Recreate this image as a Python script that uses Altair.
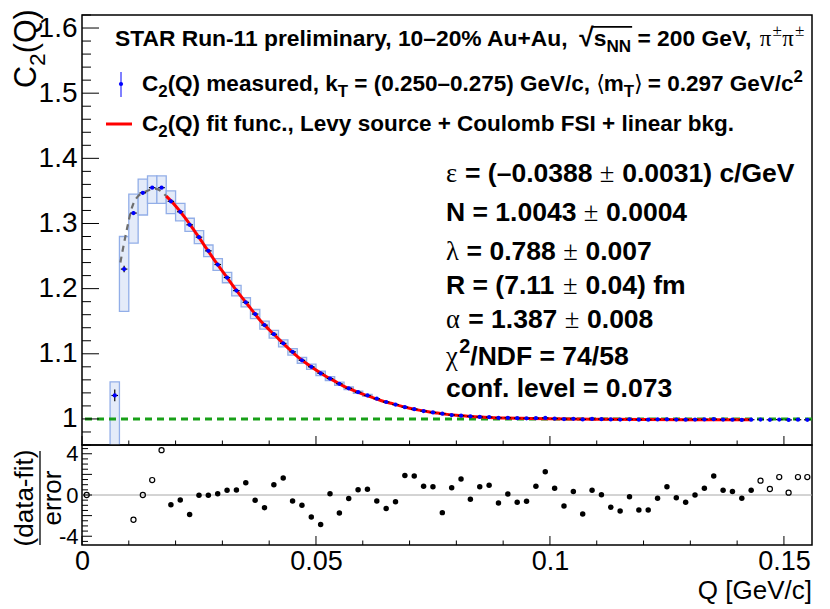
import altair as alt
import pandas as pd

# ---------------- data ----------------
Q = [0.007, 0.009, 0.011, 0.013, 0.015, 0.017, 0.019, 0.021, 0.023, 0.025,
     0.027, 0.029, 0.031, 0.033, 0.035, 0.037, 0.039, 0.041, 0.043, 0.045,
     0.047, 0.049, 0.051, 0.053, 0.055, 0.057, 0.059, 0.061, 0.063, 0.065,
     0.067, 0.069, 0.071, 0.073, 0.075, 0.077, 0.079, 0.081, 0.083, 0.085,
     0.087, 0.089, 0.091, 0.093, 0.095, 0.097, 0.099, 0.101, 0.103, 0.105,
     0.107, 0.109, 0.111, 0.113, 0.115, 0.117, 0.119, 0.121, 0.123, 0.125,
     0.127, 0.129, 0.131, 0.133, 0.135, 0.137, 0.139, 0.141, 0.143, 0.145,
     0.147, 0.149, 0.151, 0.153, 0.155]
C2 = [1.036, 1.230, 1.316, 1.347, 1.355, 1.355, 1.334, 1.318, 1.298, 1.279,
      1.258, 1.237, 1.217, 1.197, 1.179, 1.161, 1.144, 1.130, 1.116, 1.103,
      1.090, 1.080, 1.070, 1.062, 1.054, 1.047, 1.041, 1.036, 1.031, 1.026,
      1.022, 1.018, 1.015, 1.012, 1.010, 1.008, 1.006, 1.005, 1.004, 1.003,
      1.0028, 1.0018, 1.0018, 1.0012, 1.001, 1.0012, 1.0015, 1.0005, 0.9998, 1.0002,
      0.9993, 1.0, 0.9997, 0.9992, 0.999, 0.9994, 0.9989, 0.9988, 0.9992, 0.9995,
      0.999, 0.9988, 0.999, 0.9992, 0.9996, 0.999, 0.9989, 0.9985, 0.9988, 0.9991,
      0.9987, 0.999, 0.9985, 0.9988, 0.9987]

STAT_Q = [0.007, 0.009, 0.011, 0.013, 0.015, 0.017]
STAT_ERR = [0.009, 0.005, 0.003, 0.0025, 0.002, 0.002]

BOX_Q = [0.007, 0.009, 0.011, 0.013, 0.015, 0.017, 0.019, 0.021, 0.023, 0.025,
         0.027, 0.029, 0.031, 0.033, 0.035, 0.037, 0.039, 0.041, 0.043, 0.045,
         0.047, 0.049, 0.051, 0.053, 0.055, 0.057, 0.059, 0.061]
BOX_LO = [0.94, 1.165, 1.270, 1.313, 1.331, 1.331, 1.315, 1.304, 1.288, 1.269,
          1.249, 1.228, 1.209, 1.189, 1.172, 1.154, 1.138, 1.124, 1.1105, 1.098,
          1.0855, 1.076, 1.0665, 1.059, 1.0515, 1.045, 1.0393, 1.0345]
BOX_HI = [1.057, 1.280, 1.345, 1.368, 1.373, 1.373, 1.350, 1.331, 1.308, 1.289,
          1.267, 1.246, 1.225, 1.205, 1.186, 1.168, 1.150, 1.136, 1.1215, 1.108,
          1.0945, 1.084, 1.0735, 1.065, 1.0565, 1.049, 1.0427, 1.0375]

FIT_Q = [0.018, 0.020, 0.022, 0.024, 0.026, 0.028, 0.030, 0.032, 0.034, 0.036,
         0.038, 0.040, 0.042, 0.044, 0.046, 0.048, 0.050, 0.052, 0.054, 0.056,
         0.058, 0.060, 0.062, 0.064, 0.066, 0.068, 0.070, 0.072, 0.074, 0.076,
         0.078, 0.080, 0.082, 0.084, 0.086, 0.088, 0.090, 0.094, 0.100, 0.110,
         0.120, 0.130, 0.143]
FIT_C = [1.342, 1.327, 1.309, 1.289, 1.268, 1.247, 1.227, 1.207, 1.188, 1.170,
         1.152, 1.137, 1.123, 1.109, 1.096, 1.085, 1.075, 1.066, 1.058, 1.050,
         1.044, 1.038, 1.033, 1.028, 1.024, 1.020, 1.0165, 1.0135, 1.011, 1.009,
         1.007, 1.0055, 1.0045, 1.0035, 1.0027, 1.002, 1.0015, 1.001, 1.0003, 0.9996,
         0.999, 0.9987, 0.9986]

EXT_Q = [0.0082, 0.0093, 0.0108, 0.0120, 0.0133, 0.0147, 0.0158, 0.0172, 0.018]
EXT_C = [1.240, 1.281, 1.327, 1.342, 1.348, 1.352, 1.353, 1.3476, 1.342]

RES_Q = [0.019, 0.021, 0.023, 0.025, 0.027, 0.029, 0.031, 0.033, 0.035, 0.037,
         0.039, 0.041, 0.043, 0.045, 0.047, 0.049, 0.051, 0.053, 0.055, 0.057,
         0.059, 0.061, 0.063, 0.065, 0.067, 0.069, 0.071, 0.073, 0.075, 0.077,
         0.079, 0.081, 0.083, 0.085, 0.087, 0.089, 0.091, 0.093, 0.095, 0.097,
         0.099, 0.101, 0.103, 0.105, 0.107, 0.109, 0.111, 0.113, 0.115, 0.117,
         0.119, 0.121, 0.123, 0.125, 0.127, 0.129, 0.131, 0.133, 0.135, 0.137,
         0.139, 0.141, 0.143]
RES = [-0.94, -0.48, -1.90, -0.03, -0.03, 0.13, 0.45, 0.48, 1.19, -0.52,
       -1.23, 1.00, 1.65, -0.58, -1.00, -2.13, -2.87, 0.13, -1.74, -0.35,
       0.52, 0.55, -0.58, -1.32, -0.65, 1.90, 1.84, 0.84, 0.81, -1.71,
       0.71, 1.55, -0.42, 0.81, 0.94, -0.77, 0.10, -0.71, -0.61, 0.84,
       2.26, 0.65, -1.06, 0.35, -1.84, 0.45, 0.03, -1.19, -1.55, -0.16,
       -1.45, -1.45, -0.32, 0.81, -0.26, -0.71, 0.00, 0.65, 1.84, 0.45,
       0.35, -0.32, 0.45]
RES_OUT_Q = [0.001, 0.011, 0.013, 0.015, 0.017, 0.145, 0.147, 0.149, 0.151, 0.153, 0.155]
RES_OUT = [0.0, -2.4, 0.0, 1.45, 4.35, 1.39, 0.58, 1.74, 0.23, 1.74, 1.74]

BASELINE = [1.0]
ZERO = [0.0]
BIN_HALF = 0.001
XERR = 0.0007

X_TICKS = [0, 0.05, 0.1, 0.15]
Y_TICKS_TOP = [1.0, 1.1, 1.2, 1.3, 1.4, 1.5, 1.6]
Y_TICKS_BOT = [-4, -2, 0, 2, 4]

LEGEND_1 = [('STAR Run-11 preliminary, 10\u201320% Au+Au, ', 'b'), ('\u221a', 'bbig'), ('s', 'b'),
            ('NN', 'bsub'), (' = 200 GeV, ', 'b'), ('\u03c0', 's'), ('\u00b1', 'ssup'),
            ('\u03c0', 's'), ('\u00b1', 'ssup')]
LEGEND_2 = [('C', 'b'), ('2', 'bsub'), ('(Q) measured, k', 'b'), ('T', 'bsub'),
            (' = (0.250\u20130.275) GeV/c, ', 'b'), ('\u27e8', 's'), ('m', 'b'), ('T', 'bsub'),
            ('\u27e9', 's'), (' = 0.297 GeV/c', 'b'), ('2', 'bsup')]
LEGEND_3 = [('C', 'b'), ('2', 'bsub'),
            ('(Q) fit func., Levy source + Coulomb FSI + linear bkg.', 'b')]
PARAMS = [
    [('\u03b5', 's'), (' = (\u20130.0388 ', 'b'), ('\u00b1', 's'), (' 0.0031) c/GeV', 'b')],
    [('N = 1.0043 ', 'b'), ('\u00b1', 's'), (' 0.0004', 'b')],
    [('\u03bb', 's'), (' = 0.788 ', 'b'), ('\u00b1', 's'), (' 0.007', 'b')],
    [('R = (7.11 ', 'b'), ('\u00b1', 's'), (' 0.04) fm', 'b')],
    [('\u03b1', 's'), (' = 1.387 ', 'b'), ('\u00b1', 's'), (' 0.008', 'b')],
    [('\u03c7', 's'), ('2', 'bsup'), ('/NDF = 74/58', 'b')],
    [('conf. level = 0.073', 'b')],
]
YTITLE = [('C', 'r'), ('2', 'rsub'), ('(Q)', 'r')]
RES_NUM = '(data-fit)'
RES_DEN = 'error'
XTITLE = 'Q [GeV/c]'

# ---------------- text layout helpers ----------------
AB = {ch: 556 for ch in '0123456789'}
AB.update({' ': 278, '%': 889, '(': 333, ')': 333, '+': 584, ',': 278, '-': 333, '.': 278,
           '/': 278, '=': 584, '\u2013': 556, '\u00b1': 584, '\u221a': 549,
           'A': 722, 'C': 722, 'D': 722, 'F': 611, 'G': 778, 'I': 278, 'L': 611, 'N': 722,
           'Q': 778, 'R': 722, 'S': 667, 'T': 611, 'V': 667,
           'a': 556, 'b': 611, 'c': 556, 'd': 611, 'e': 556, 'f': 333, 'g': 611, 'i': 278,
           'k': 556, 'l': 278, 'm': 889, 'n': 611, 'o': 611, 'p': 611, 'r': 389, 's': 556,
           't': 333, 'u': 611, 'v': 556, 'y': 556})
SR = {'\u03b5': 440, '\u03bb': 500, '\u03b1': 560, '\u03c7': 500, '\u03c0': 560,
      '\u00b1': 564, '\u27e8': 333, '\u27e9': 333, ' ': 250}
AR = {'C': 722, '(': 333, 'Q': 778, ')': 333, '2': 556}
TABLES = {'b': AB, 's': SR, 'r': AR}
SUBF = 0.75


def lay(segs, x0, y0, base, rotate=False):
    """Place text runs one after another; Vega trims the ends of each string,
    so leading blanks are turned into an offset instead."""
    rows, pos = [], 0.0
    for txt, st in segs:
        small = st.endswith('sub') or st.endswith('sup')
        size = base * SUBF if small else (base * 1.15 if st.endswith('big') else base)
        shift = base * 0.28 if st.endswith('sub') else (-base * 0.42 if st.endswith('sup') else 0.0)
        fam = st[0]
        tab = TABLES[fam]
        w = sum(tab.get(ch, 556) for ch in txt) * size / 1000.0
        lead = len(txt) - len(txt.lstrip(' '))
        leadw = lead * tab.get(' ', 278) * size / 1000.0
        shown = txt.strip(' ')
        if rotate:
            rows.append(dict(x=x0 + shift, y=y0 - pos - leadw, t=shown, s=size, f=fam, w=w))
        else:
            rows.append(dict(x=x0 + pos + leadw, y=y0 + shift, t=shown, s=size, f=fam, w=w))
        pos += w
    return rows, pos


FONTS = {'b': ('Liberation Sans', 'bold'), 's': ('Liberation Serif, DejaVu Serif', 'normal'),
         'r': ('Liberation Sans', 'normal')}


def text_layers(rows, angle=0):
    df = pd.DataFrame(rows)
    out = []
    for fam in ['b', 's', 'r']:
        sub = df[df.f == fam]
        if len(sub) == 0:
            continue
        font, weight = FONTS[fam]
        out.append(alt.Chart(sub).mark_text(font=font, fontWeight=weight, align='left',
                                            baseline='alphabetic', angle=angle, color='black')
                   .encode(x=alt.X('x:Q', scale=None), y=alt.Y('y:Q', scale=None),
                           text='t:N', size=alt.Size('s:Q', scale=None, legend=None)))
    return out


# ---------------- geometry / scales ----------------
W, HT, HB = 730, 430, 100
DX = 5  # horizontal shift of the left-hand titles
xs = alt.Scale(domain=[0, 0.156], nice=False, zero=False)
ys = alt.Scale(domain=[0.96, 1.62], nice=False, zero=False)
rs = alt.Scale(domain=[-4.85, 4.85], nice=False, zero=False)

ax_top_y = alt.Axis(values=Y_TICKS_TOP, format='~g', labelFontSize=28, labelPadding=5,
                    ticks=False, domain=False, grid=False, title=None,
                    labelFont='Liberation Sans', labelColor='black')
ax_bot_y = alt.Axis(values=Y_TICKS_BOT, labelExpr="'' + datum.value", labelFontSize=22,
                    labelPadding=4, ticks=False, domain=False, grid=False, title=None,
                    labelFont='Liberation Sans', labelColor='black')
ax_bot_x = alt.Axis(values=X_TICKS, format='~g', labelFontSize=27, labelPadding=3,
                    ticks=False, domain=False, grid=False, title=None, labelFlush=False,
                    labelOverlap=False, labelFont='Liberation Sans', labelColor='black')


def XT(f):
    return alt.X(f, type='quantitative', scale=xs, axis=None)


def YT(f):
    return alt.Y(f, type='quantitative', scale=ys, axis=ax_top_y)


def XB(f):
    return alt.X(f, type='quantitative', scale=xs, axis=ax_bot_x)


def YB(f):
    return alt.Y(f, type='quantitative', scale=rs, axis=ax_bot_y)


# ---------------- top panel ----------------
df_pts = pd.DataFrame({'q': Q, 'c': C2})
df_pts['x1'] = df_pts.q - XERR
df_pts['x2'] = df_pts.q + XERR
df_stat = pd.DataFrame({'q': STAT_Q, 'e': STAT_ERR})
df_stat = df_stat.merge(df_pts[['q', 'c']], on='q')
df_stat['lo'] = df_stat.c - df_stat.e
df_stat['hi'] = df_stat.c + df_stat.e
df_box = pd.DataFrame({'q': BOX_Q, 'lo': BOX_LO, 'hi': BOX_HI})
df_box['x1'] = df_box.q - BIN_HALF
df_box['x2'] = df_box.q + BIN_HALF

boxes = alt.Chart(df_box).mark_rect(fill='#e4ebf9', stroke='#92aee8', strokeWidth=1.3,
                                    clip=True).encode(x=XT('x1'), x2='x2', y=YT('lo'), y2='hi')
green = alt.Chart(pd.DataFrame({'b': BASELINE})).mark_rule(
    color='#18a018', strokeWidth=3, strokeDash=[7, 5]).encode(y=YT('b'))
ext = alt.Chart(pd.DataFrame({'q': EXT_Q, 'c': EXT_C})).mark_line(
    color='#6e6e6e', strokeWidth=2.2, strokeDash=[6, 5], interpolate='monotone').encode(
    x=XT('q'), y=YT('c'))
fit = alt.Chart(pd.DataFrame({'q': FIT_Q, 'c': FIT_C})).mark_line(
    color='#ff0000', strokeWidth=3, interpolate='monotone').encode(x=XT('q'), y=YT('c'))
xbars = alt.Chart(df_pts).mark_rule(color='black', strokeWidth=1.2).encode(
    x=XT('x1'), x2='x2', y=YT('c'))
ybars = alt.Chart(df_stat).mark_rule(color='black', strokeWidth=1.2).encode(
    x=XT('q'), y=YT('lo'), y2='hi')
pts = alt.Chart(df_pts).mark_circle(color='#0000ff', size=18, opacity=1).encode(
    x=XT('q'), y=YT('c'))


def y_rules(vals, length, enc):
    return alt.Chart(pd.DataFrame({'v': vals})).mark_rule(color='black', strokeWidth=1).encode(
        y=enc('v'), x=alt.value(0), x2=alt.value(length))


def x_rules(vals, length, enc, h):
    return alt.Chart(pd.DataFrame({'v': vals})).mark_rule(color='black', strokeWidth=1).encode(
        x=enc('v'), y=alt.value(h), y2=alt.value(h - length))


y_minor_top = [round(0.96 + 0.02 * i, 2) for i in range(34)]
y_minor_top = [v for v in y_minor_top if v not in Y_TICKS_TOP]
x_minor = [round(0.01 * i, 2) for i in range(16) if i % 5]
y_minor_bot = [-4.5 + 0.5 * i for i in range(19)]
y_minor_bot = [v for v in y_minor_bot if v not in Y_TICKS_BOT]

# texts of the top panel
L1Y = 31
rows = []
r1, _ = lay(LEGEND_1, 33, L1Y, 22.8)
rows += r1
r2, _ = lay(LEGEND_2, 60, 76, 22.5)
rows += r2
r3, _ = lay(LEGEND_3, 60, 116, 22.5)
rows += r3
for seg, yb in zip(PARAMS, [166.5, 205.5, 244.5, 278.5, 312.5, 349.5, 382]):
    rr, _ = lay(seg, 364, yb, 26.5)
    rows += rr
yt_rows, yt_len = lay(YTITLE, -51 + DX, -5 + 78, 30.5, rotate=True)
top_texts = text_layers(rows) + text_layers(yt_rows, angle=270)

rad_row, nn_row = r1[1], r1[3]
overbar = alt.Chart(pd.DataFrame({'a': [0]})).mark_rule(color='black', strokeWidth=1.6).encode(
    x=alt.value(rad_row['x'] + rad_row['w'] - 1.5), x2=alt.value(nn_row['x'] + nn_row['w'] + 1),
    y=alt.value(L1Y - 0.84 * 22.8))
leg_dot = alt.Chart(pd.DataFrame({'a': [0]})).mark_circle(color='#0000ff', size=18, opacity=1).encode(
    x=alt.value(39), y=alt.value(69))
leg_bar = alt.Chart(pd.DataFrame({'a': [0]})).mark_rule(color='#0000ff', strokeWidth=1).encode(
    x=alt.value(39), y=alt.value(57), y2=alt.value(82))
leg_line = alt.Chart(pd.DataFrame({'a': [0]})).mark_rule(color='#ff0000', strokeWidth=3).encode(
    x=alt.value(24), x2=alt.value(50), y=alt.value(109))

top = alt.layer(
    boxes, green, ext, fit, xbars, ybars, pts,
    y_rules(Y_TICKS_TOP, 17, YT), y_rules(y_minor_top, 9, YT),
    x_rules(X_TICKS, 9, XT, HT), x_rules(x_minor, 4.5, XT, HT),
    leg_line, leg_bar, leg_dot, overbar, *top_texts
).properties(width=W, height=HT)

# ---------------- bottom panel ----------------
zero = alt.Chart(pd.DataFrame({'z': ZERO})).mark_rule(color='#a8a8a8', strokeWidth=1).encode(
    y=YB('z'))
res_in = alt.Chart(pd.DataFrame({'q': RES_Q, 'r': RES})).mark_circle(
    color='black', size=30, opacity=1).encode(x=XB('q'), y=YB('r'))
res_out = alt.Chart(pd.DataFrame({'q': RES_OUT_Q, 'r': RES_OUT})).mark_point(
    shape='circle', filled=False, color='black', strokeWidth=1.2, size=26, opacity=1).encode(
    x=XB('q'), y=YB('r'))

bot_rows = [dict(x=W, y=154, t=XTITLE, s=26)]
xtitle = alt.Chart(pd.DataFrame(bot_rows)).mark_text(
    font='Liberation Sans', align='right', baseline='alphabetic', color='black').encode(
    x=alt.X('x:Q', scale=None), y=alt.Y('y:Q', scale=None), text='t:N',
    size=alt.Size('s:Q', scale=None, legend=None))
frac = pd.DataFrame([dict(x=-54 + DX, y=53, t=RES_NUM, s=26), dict(x=-26 + DX, y=53, t=RES_DEN, s=26)])
frac_text = alt.Chart(frac).mark_text(
    font='Liberation Sans', align='center', baseline='alphabetic', angle=270, color='black').encode(
    x=alt.X('x:Q', scale=None), y=alt.Y('y:Q', scale=None), text='t:N',
    size=alt.Size('s:Q', scale=None, legend=None))
frac_line = alt.Chart(pd.DataFrame({'a': [0]})).mark_rule(color='black', strokeWidth=1.3).encode(
    x=alt.value(-47 + DX), y=alt.value(6), y2=alt.value(100))

bottom = alt.layer(
    zero, res_in, res_out,
    y_rules(Y_TICKS_BOT, 10, YB), y_rules(y_minor_bot, 6, YB),
    x_rules(X_TICKS, 9, XB, HB), x_rules(x_minor, 4.5, XB, HB),
    xtitle, frac_text, frac_line
).properties(width=W, height=HB)

chart = alt.vconcat(top, bottom, spacing=0, bounds='flush').configure_view(
    stroke='black', strokeWidth=1.5).properties(
    padding={'left': 3, 'right': 0, 'top': 0, 'bottom': 0}, background='white')

chart.save('out.html', embed_options={'renderer': 'svg', 'actions': False})
